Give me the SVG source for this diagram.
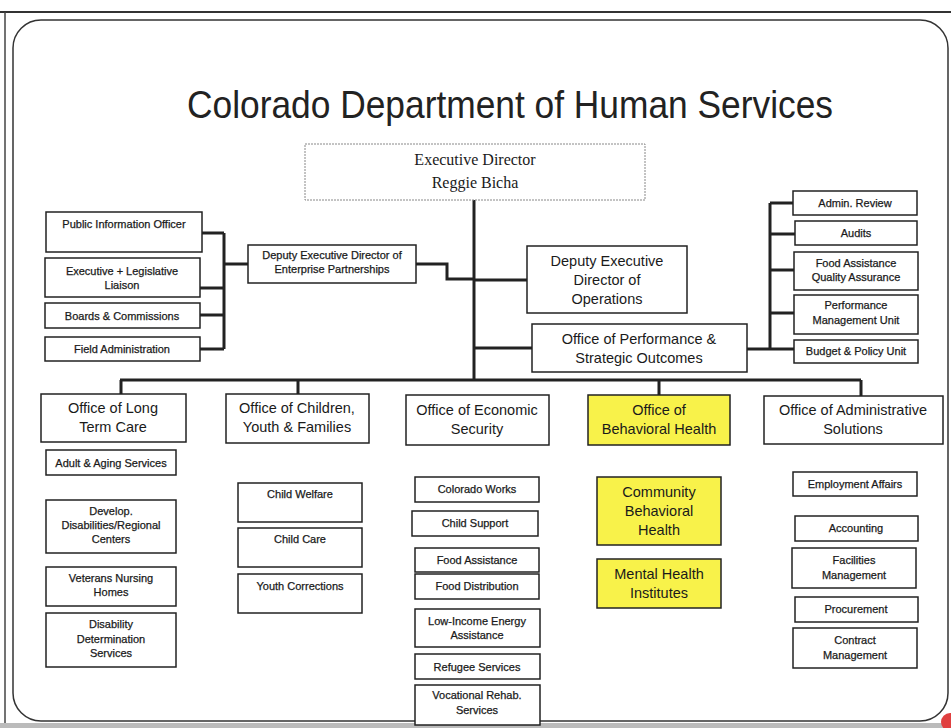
<svg xmlns="http://www.w3.org/2000/svg" width="951" height="728" viewBox="0 0 951 728">
<style>
.box{fill:#fff;stroke:#222;stroke-width:1.5}
.hl{fill:#f8f24a}
.ex{fill:#fff;stroke:#888;stroke-width:1;stroke-dasharray:2 1}
.conn{fill:none;stroke:#222;stroke-width:3}
text{font-family:"Liberation Sans",Arial,sans-serif;fill:#1a1a1a;text-anchor:middle}
.s{font-size:11px;stroke:#1a1a1a;stroke-width:0.25}
.m{font-size:14.5px}
.serif{font-family:"Liberation Serif","Times New Roman",serif;font-size:16px}
.title{font-size:39px;fill:#222}
</style>
<rect x="0" y="0" width="951" height="728" fill="#fff"/>
<g id="frame">
<line x1="0" y1="12" x2="951" y2="12" stroke="#333" stroke-width="2"/>
<line x1="5" y1="12" x2="5" y2="728" stroke="#444" stroke-width="1.5"/>
<rect x="13" y="20" width="935" height="701" rx="28" fill="none" stroke="#333" stroke-width="1.5"/>
<rect x="0" y="723" width="951" height="5" fill="#bbb"/>
<circle cx="950" cy="722" r="9" fill="#e04040"/>
</g>
<text class="title" x="510" y="118" textLength="646" lengthAdjust="spacingAndGlyphs">Colorado Department of Human Services</text>
<g id="connectors">
<path class="conn" d="M474,200 V380"/>
<path class="conn" d="M120,380 H861"/>
<path class="conn" d="M121,380 V394 M298,380 V394 M659,380 V395 M861,380 V396"/>
<path class="conn" d="M202,233 H224 M200,288 H224 M200,315 H224 M200,349 H224 M224,233 V349 M224,264 H248"/>
<path class="conn" d="M416,264 H447 V279 H474"/>
<path class="conn" d="M474,280 H527 M474,348 H532"/>
<path class="conn" d="M747,349 H770 M770,203 V350 M770,203 H793 M770,234 H795 M770,270 H794 M770,313 H794 M770,349 H794"/>
</g>
<g id="exec"><rect class="ex" x="305" y="144" width="340" height="56"/><text class="serif" x="475" y="165">Executive Director</text><text class="serif" x="475" y="188">Reggie Bicha</text></g>
<g id="deputy-ent"><rect class="box" x="248" y="245" width="168" height="38"/><text class="s" x="332" y="259">Deputy Executive Director of</text><text class="s" x="332" y="273">Enterprise Partnerships</text></g>
<g id="pio"><rect class="box" x="46" y="212" width="156" height="40"/><text class="s" x="124" y="228">Public Information Officer</text></g>
<g id="liaison"><rect class="box" x="45" y="258" width="155" height="39"/><text class="s" x="122" y="275">Executive + Legislative</text><text class="s" x="122" y="289">Liaison</text></g>
<g id="boards"><rect class="box" x="45" y="303" width="155" height="25"/><text class="s" x="122" y="320">Boards &amp; Commissions</text></g>
<g id="field"><rect class="box" x="45" y="337" width="155" height="24"/><text class="s" x="122" y="353">Field Administration</text></g>
<g id="deputy-ops"><rect class="box" x="527" y="246" width="160" height="67"/><text class="m" x="607" y="266">Deputy Executive</text><text class="m" x="607" y="285">Director of</text><text class="m" x="607" y="304">Operations</text></g>
<g id="opso"><rect class="box" x="532" y="324" width="215" height="48"/><text class="m" x="639" y="344">Office of Performance &amp;</text><text class="m" x="639" y="363">Strategic Outcomes</text></g>
<g id="admin-review"><rect class="box" x="793" y="191" width="124" height="24"/><text class="s" x="855" y="207">Admin. Review</text></g>
<g id="audits"><rect class="box" x="795" y="221" width="122" height="24"/><text class="s" x="856" y="237">Audits</text></g>
<g id="faqa"><rect class="box" x="794" y="252" width="124" height="38"/><text class="s" x="856" y="267">Food Assistance</text><text class="s" x="856" y="281">Quality Assurance</text></g>
<g id="pmu"><rect class="box" x="794" y="295" width="124" height="39"/><text class="s" x="856" y="309">Performance</text><text class="s" x="856" y="324">Management Unit</text></g>
<g id="budget"><rect class="box" x="794" y="340" width="124" height="23"/><text class="s" x="856" y="355">Budget &amp; Policy Unit</text></g>
<g id="ltc"><rect class="box" x="41" y="394" width="145" height="48"/><text class="m" x="113" y="413">Office of Long</text><text class="m" x="113" y="432">Term Care</text></g>
<g id="cyf"><rect class="box" x="226" y="394" width="143" height="49"/><text class="m" x="297" y="413">Office of Children,</text><text class="m" x="297" y="432">Youth &amp; Families</text></g>
<g id="oes"><rect class="box" x="406" y="395" width="143" height="50"/><text class="m" x="477" y="415">Office of Economic</text><text class="m" x="477" y="434">Security</text></g>
<g id="obh"><rect class="box hl" x="588" y="395" width="142" height="50"/><text class="m" x="659" y="415">Office of</text><text class="m" x="659" y="434">Behavioral Health</text></g>
<g id="oas"><rect class="box" x="764" y="396" width="179" height="48"/><text class="m" x="853" y="415">Office of Administrative</text><text class="m" x="853" y="434">Solutions</text></g>
<g id="adult"><rect class="box" x="46" y="450" width="130" height="25"/><text class="s" x="111" y="467">Adult &amp; Aging Services</text></g>
<g id="develop"><rect class="box" x="46" y="500" width="130" height="53"/><text class="s" x="111" y="515">Develop.</text><text class="s" x="111" y="529">Disabilities/Regional</text><text class="s" x="111" y="543">Centers</text></g>
<g id="veterans"><rect class="box" x="46" y="567" width="130" height="39"/><text class="s" x="111" y="582">Veterans Nursing</text><text class="s" x="111" y="596">Homes</text></g>
<g id="dds"><rect class="box" x="46" y="613" width="130" height="54"/><text class="s" x="111" y="628">Disability</text><text class="s" x="111" y="643">Determination</text><text class="s" x="111" y="657">Services</text></g>
<g id="welfare"><rect class="box" x="238" y="483" width="124" height="39"/><text class="s" x="300" y="498">Child Welfare</text></g>
<g id="childcare"><rect class="box" x="238" y="528" width="124" height="39"/><text class="s" x="300" y="543">Child Care</text></g>
<g id="youth"><rect class="box" x="238" y="574" width="124" height="39"/><text class="s" x="300" y="590">Youth Corrections</text></g>
<g id="coworks"><rect class="box" x="415" y="477" width="124" height="25"/><text class="s" x="477" y="493">Colorado Works</text></g>
<g id="childsupport"><rect class="box" x="412" y="511" width="126" height="25"/><text class="s" x="475" y="527">Child Support</text></g>
<g id="foodassist"><rect class="box" x="415" y="548" width="124" height="24"/><text class="s" x="477" y="564">Food Assistance</text></g>
<g id="fooddist"><rect class="box" x="415" y="574" width="124" height="25"/><text class="s" x="477" y="590">Food Distribution</text></g>
<g id="liea"><rect class="box" x="415" y="609" width="125" height="38"/><text class="s" x="477" y="625">Low-Income Energy</text><text class="s" x="477" y="639">Assistance</text></g>
<g id="refugee"><rect class="box" x="415" y="654" width="125" height="25"/><text class="s" x="477" y="671">Refugee Services</text></g>
<g id="vocrehab"><rect class="box" x="415" y="685" width="125" height="40"/><text class="s" x="477" y="699">Vocational Rehab.</text><text class="s" x="477" y="714">Services</text></g>
<g id="cbh"><rect class="box hl" x="597" y="477" width="124" height="68"/><text class="m" x="659" y="497">Community</text><text class="m" x="659" y="516">Behavioral</text><text class="m" x="659" y="535">Health</text></g>
<g id="mhi"><rect class="box hl" x="597" y="559" width="124" height="49"/><text class="m" x="659" y="579">Mental Health</text><text class="m" x="659" y="598">Institutes</text></g>
<g id="employment"><rect class="box" x="793" y="472" width="124" height="24"/><text class="s" x="855" y="488">Employment Affairs</text></g>
<g id="accounting"><rect class="box" x="795" y="516" width="123" height="25"/><text class="s" x="856" y="532">Accounting</text></g>
<g id="facilities"><rect class="box" x="792" y="548" width="124" height="40"/><text class="s" x="854" y="564">Facilities</text><text class="s" x="854" y="579">Management</text></g>
<g id="procurement"><rect class="box" x="795" y="597" width="123" height="25"/><text class="s" x="856" y="613">Procurement</text></g>
<g id="contract"><rect class="box" x="793" y="628" width="124" height="40"/><text class="s" x="855" y="644">Contract</text><text class="s" x="855" y="659">Management</text></g>
</svg>
